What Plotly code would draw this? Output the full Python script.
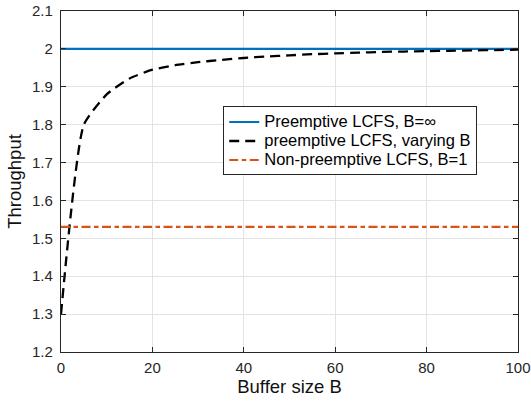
import plotly.graph_objects as go

B_vals = [0, 5, 10, 15, 20, 25, 30, 35, 40, 45, 50, 55, 60, 65, 70, 75, 80, 85, 90, 95, 100]
thr_varying = [1.30, 1.80, 1.88, 1.922, 1.945, 1.957, 1.965, 1.971, 1.976, 1.980, 1.983, 1.986, 1.988, 1.990, 1.992, 1.993, 1.994, 1.995, 1.996, 1.997, 1.998]
B_line = [0, 100]
thr_inf = [2.0, 2.0]
thr_np = [1.53, 1.53]

names = ["Preemptive LCFS, B=∞", "preemptive LCFS, varying B", "Non-preemptive LCFS, B=1"]


def big(s):
    return f'<span style="font-size:16.5px">{s}</span>'


fig = go.Figure()
fig.add_trace(go.Scatter(x=B_line, y=thr_inf, mode="lines", name=big(names[0]),
                         line=dict(color="#0072BD", width=2.2)))
fig.add_trace(go.Scatter(x=B_vals, y=thr_varying, mode="lines", name=big(names[1]),
                         line=dict(color="black", width=2.3, dash="10px,6px", shape="spline", smoothing=0.5)))
fig.add_trace(go.Scatter(x=B_line, y=thr_np, mode="lines", name=big(names[2]),
                         line=dict(color="#D95319", width=2.2, dash="9px,3.5px,4.5px,3.5px")))

axis_common = dict(showline=True, linecolor="#262626", linewidth=1.2, mirror="ticks",
                   ticks="inside", ticklen=5, tickcolor="#262626",
                   showgrid=True, gridcolor="#E3E3E3", gridwidth=1, zeroline=False,
                   automargin=False,
                   tickfont=dict(size=15, color="#262626"))

fig.update_layout(
    width=531, height=401,
    margin=dict(l=61, r=13, t=11, b=49),
    paper_bgcolor="white", plot_bgcolor="white",
    font=dict(family="Liberation Sans, Arial, sans-serif", size=15, color="#262626"),
    xaxis=dict(range=[0, 100], dtick=20, tick0=0, ticklabelstandoff=2,
               title=dict(text="Buffer size B", font=dict(size=18.5, color="#111111"), standoff=1), **axis_common),
    yaxis=dict(range=[1.2, 2.1], dtick=0.1, tick0=1.2, ticklabelstandoff=4,
               title=dict(text="Throughput", font=dict(size=18.5, color="#111111"), standoff=5), **axis_common),
    legend=dict(x=0.355, y=0.72, xanchor="left", yanchor="top",
                bgcolor="white", bordercolor="#262626", borderwidth=1,
                font=dict(size=12, color="black"), tracegroupgap=0,
                itemwidth=30),
    showlegend=True,
)

fig.write_html("out.html", config={"displayModeBar": False},
               post_script="document.body.style.margin='0';")
